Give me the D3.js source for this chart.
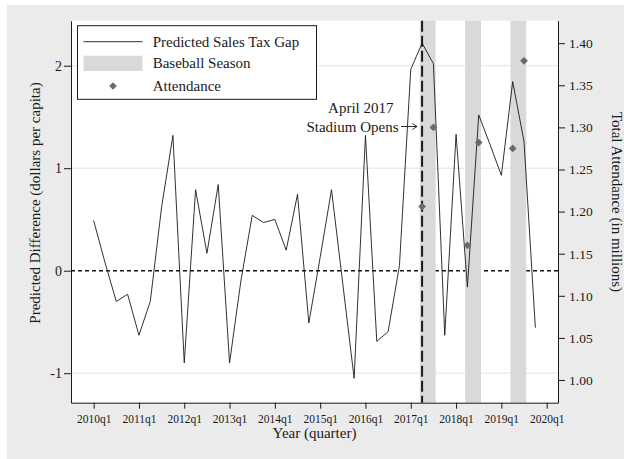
<!DOCTYPE html>
<html>
<head>
<meta charset="utf-8">
<script src="https://cdn.jsdelivr.net/npm/d3@7"></script>
<style>
  html, body { margin: 0; padding: 0; background: #ffffff; }
  svg { display: block; }
  text { font-family: "Liberation Serif", "DejaVu Serif", serif; fill: #1a1a1a; }
</style>
</head>
<body>
<svg id="chart" width="624" height="459"></svg>
<script>
// Quarterly periods of the sales tax gap series
const quarters = [
  "2010q1","2010q2","2010q3","2010q4","2011q1","2011q2","2011q3","2011q4",
  "2012q1","2012q2","2012q3","2012q4","2013q1","2013q2","2013q3","2013q4",
  "2014q1","2014q2","2014q3","2014q4","2015q1","2015q2","2015q3","2015q4",
  "2016q1","2016q2","2016q3","2016q4","2017q1","2017q2","2017q3","2017q4",
  "2018q1","2018q2","2018q3","2018q4","2019q1","2019q2","2019q3","2019q4"
];

// Predicted sales tax gap (dollars per capita)
const taxGap = [
  0.49, 0.08, -0.30, -0.23, -0.63, -0.30, 0.62, 1.32,
  -0.90, 0.79, 0.17, 0.84, -0.90, -0.10, 0.54, 0.47,
  0.50, 0.20, 0.745, -0.51, 0.13, 0.79, -0.13, -1.05,
  1.32, -0.69, -0.595, 0.05, 1.965, 2.22, 2.02, -0.63,
  1.33, -0.16, 1.52, 1.23, 0.93, 1.845, 1.26, -0.556
];

// Ballpark attendance (millions)
const attendanceQuarters = ["2017q2","2017q3","2018q2","2018q3","2019q2","2019q3"];
const attendance = [1.206, 1.300, 1.160, 1.282, 1.275, 1.379];

// Baseball seasons (first and last quarter)
const seasonStart = ["2017q2","2018q2","2019q2"];
const seasonEnd   = ["2017q3","2018q3","2019q3"];

const stadiumOpens = "2017q2";

// Axis ticks
const xTickLabels = ["2010q1","2011q1","2012q1","2013q1","2014q1","2015q1",
                     "2016q1","2017q1","2018q1","2019q1","2020q1"];
const yLeftTicks  = [-1, 0, 1, 2];
const yRightTicks = [1.00, 1.05, 1.10, 1.15, 1.20, 1.25, 1.30, 1.35, 1.40];

// Quarter label -> quarters since 2010q1
const qIndex = s => (+s.slice(0, 4) - 2010) * 4 + (+s.slice(5) - 1);

const svg = d3.select("#chart");
const W = 624, H = 459;
const plot = { left: 71, right: 558, top: 20.7, bottom: 402.7 };

// Outer graph region
svg.append("rect").attr("x", 7).attr("y", 5).attr("width", W - 7).attr("height", H - 5)
  .attr("fill", "#ebebeb");
svg.append("rect").attr("x", plot.left).attr("y", plot.top)
  .attr("width", plot.right - plot.left).attr("height", plot.bottom - plot.top)
  .attr("fill", "#ffffff");

const x = d3.scaleLinear().domain([-2, 41]).range([plot.left, plot.right]);
const yL = d3.scaleLinear().domain([-1.2878, 2.439]).range([plot.bottom, plot.top]);
const yR = d3.scaleLinear().domain([0.97304, 1.4267]).range([plot.bottom, plot.top]);

// Grid lines
svg.append("g").selectAll("line").data(yLeftTicks.filter(d => d !== 0)).join("line")
  .attr("x1", plot.left).attr("x2", plot.right)
  .attr("y1", d => yL(d)).attr("y2", d => yL(d))
  .attr("stroke", "#e3e3e3").attr("stroke-width", 1);

// Zero reference line
svg.append("line")
  .attr("x1", plot.left).attr("x2", plot.right)
  .attr("y1", yL(0)).attr("y2", yL(0))
  .attr("stroke", "#111").attr("stroke-width", 1.6)
  .attr("stroke-dasharray", "4,3");

// Baseball season shading
const pad = 0.2;
svg.append("g").selectAll("rect").data(seasonStart.map((s, i) => [s, seasonEnd[i]])).join("rect")
  .attr("x", d => x(qIndex(d[0]) - pad))
  .attr("width", d => x(qIndex(d[1]) + pad) - x(qIndex(d[0]) - pad))
  .attr("y", plot.top).attr("height", plot.bottom - plot.top)
  .attr("fill", "#d9d9d9");

// Stadium opening marker
svg.append("line")
  .attr("x1", x(qIndex(stadiumOpens))).attr("x2", x(qIndex(stadiumOpens)))
  .attr("y1", plot.top).attr("y2", plot.bottom)
  .attr("stroke", "#1a1a1a").attr("stroke-width", 2)
  .attr("stroke-dasharray", "11,4");

// Sales tax gap line
const line = d3.line().x((d, i) => x(qIndex(quarters[i]))).y(d => yL(d));
svg.append("path").datum(taxGap)
  .attr("d", line).attr("fill", "none")
  .attr("stroke", "#1a1a1a").attr("stroke-width", 0.9)
  .attr("stroke-linejoin", "miter");

// Attendance markers
const diamond = d3.symbol().type(d3.symbolSquare).size(30);
svg.append("g").selectAll("path").data(attendance).join("path")
  .attr("d", diamond)
  .attr("transform", (d, i) => `translate(${x(qIndex(attendanceQuarters[i]))},${yR(d)}) rotate(45)`)
  .attr("fill", "#6b6b6b");

// Axes
const axisFont = g => g.selectAll("text").style("font-family", "Liberation Serif, serif").attr("fill", "#1a1a1a");

const xAxis = d3.axisBottom(x)
  .tickValues(xTickLabels.map(qIndex))
  .tickFormat((d, i) => xTickLabels[i])
  .tickSize(6).tickSizeOuter(0).tickPadding(6);
svg.append("g").attr("transform", `translate(0,${plot.bottom})`).call(xAxis)
  .call(g => g.select(".domain").attr("stroke", "#1a1a1a"))
  .call(g => g.selectAll(".tick line").attr("stroke", "#1a1a1a"))
  .call(g => g.selectAll("text").style("font-size", "11.5px"))
  .call(axisFont);

const yAxisL = d3.axisLeft(yL).tickValues(yLeftTicks).tickFormat(d => String(d))
  .tickSize(7).tickSizeOuter(0).tickPadding(2);
svg.append("g").attr("transform", `translate(${plot.left},0)`).call(yAxisL)
  .call(g => g.select(".domain").attr("stroke", "#1a1a1a"))
  .call(g => g.selectAll(".tick line").attr("stroke", "#1a1a1a"))
  .call(g => g.selectAll("text").style("font-size", "14px"))
  .call(axisFont);

const yAxisR = d3.axisRight(yR).tickValues(yRightTicks).tickFormat(d3.format(".2f"))
  .tickSize(7).tickSizeOuter(0).tickPadding(4);
svg.append("g").attr("transform", `translate(${plot.right},0)`).call(yAxisR)
  .call(g => g.select(".domain").attr("stroke", "#1a1a1a"))
  .call(g => g.selectAll(".tick line").attr("stroke", "#1a1a1a"))
  .call(g => g.selectAll("text").style("font-size", "13.5px"))
  .call(axisFont);

// Axis titles
svg.append("text").attr("x", (plot.left + plot.right) / 2).attr("y", 438)
  .attr("text-anchor", "middle").style("font-size", "15px").text("Year (quarter)");
svg.append("text").attr("transform", "translate(40,203) rotate(-90)")
  .attr("text-anchor", "middle").style("font-size", "15px")
  .text("Predicted Difference (dollars per capita)");
svg.append("text").attr("transform", "translate(612,202) rotate(90)")
  .attr("text-anchor", "middle").style("font-size", "15px")
  .text("Total Attendance (in millions)");

// Stadium annotation
svg.append("text").attr("x", 393.5).attr("y", 113).attr("text-anchor", "end")
  .style("font-size", "15px").text("April 2017");
svg.append("text").attr("x", 398.5).attr("y", 131.5).attr("text-anchor", "end")
  .style("font-size", "15px").text("Stadium Opens");
svg.append("line").attr("x1", 401).attr("x2", 416.5).attr("y1", 126.5).attr("y2", 126.5)
  .attr("stroke", "#1a1a1a").attr("stroke-width", 0.9);
svg.append("path").attr("d", "M412.5,123.5 L417,126.5 L412.5,129.5")
  .attr("fill", "none").attr("stroke", "#1a1a1a").attr("stroke-width", 0.9);

// Legend
const lg = svg.append("g");
lg.append("rect").attr("x", 77.5).attr("y", 25.7).attr("width", 239).attr("height", 73.6)
  .attr("fill", "#ffffff").attr("stroke", "#1a1a1a").attr("stroke-width", 1);
lg.append("line").attr("x1", 83.5).attr("x2", 142.5).attr("y1", 41.7).attr("y2", 41.7)
  .attr("stroke", "#1a1a1a").attr("stroke-width", 0.9);
lg.append("rect").attr("x", 83.5).attr("y", 55.7).attr("width", 59).attr("height", 15.3)
  .attr("fill", "#d9d9d9");
lg.append("path").attr("d", diamond).attr("transform", "translate(113,86) rotate(45)")
  .attr("fill", "#6b6b6b");
const legendLabels = ["Predicted Sales Tax Gap", "Baseball Season", "Attendance"];
const legendY = [41.7, 63.3, 86];
lg.selectAll("text.lab").data(legendLabels).join("text").attr("class", "lab")
  .attr("x", 152.7).attr("y", (d, i) => legendY[i] + 5)
  .style("font-size", "15px").text(d => d);
</script>
</body>
</html>
